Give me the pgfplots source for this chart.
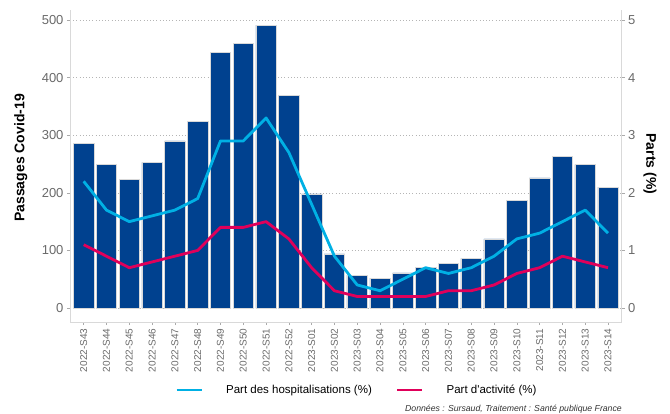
\documentclass[border=0pt]{standalone}
\usepackage{pgfplots}
\usepackage{pgfplotstable}
\pgfplotsset{compat=1.18}
\usepackage{fontspec}
\setmainfont{Liberation Sans}[Ligatures=TeXOff]
\definecolor{barblue}{HTML}{00418F}
\definecolor{hospcyan}{HTML}{00B0E4}
\definecolor{actred}{HTML}{E0005A}
\definecolor{ticktxt}{HTML}{6A6A6A}
\definecolor{axisgray}{HTML}{D9D9D9}
\definecolor{tickgray}{HTML}{AAAAAA}
\definecolor{gridgray}{HTML}{B5B5B5}

\pgfplotstableread{
idx label val hosp act
0 2022-S43 286 2.2 1.1
1 2022-S44 250 1.7 0.9
2 2022-S45 224 1.5 0.7
3 2022-S46 253 1.6 0.8
4 2022-S47 290 1.7 0.9
5 2022-S48 324 1.9 1.0
6 2022-S49 444 2.9 1.4
7 2022-S50 460 2.9 1.4
8 2022-S51 491 3.3 1.5
9 2022-S52 369 2.7 1.2
10 2023-S01 198 1.8 0.7
11 2023-S02 94 0.9 0.3
12 2023-S03 57 0.4 0.2
13 2023-S04 52 0.3 0.2
14 2023-S05 61 0.5 0.2
15 2023-S06 71 0.7 0.2
16 2023-S07 78 0.6 0.3
17 2023-S08 86 0.7 0.3
18 2023-S09 120 0.9 0.4
19 2023-S10 187 1.2 0.6
20 2023-S11 226 1.3 0.7
21 2023-S12 263 1.5 0.9
22 2023-S13 249 1.7 0.8
23 2023-S14 210 1.3 0.7
}\data

\pgfplotsset{
  common/.style={
    scale only axis, width=551.7pt, height=312.3pt,
    at={(70pt,91.8pt)}, anchor=south west,
    xmin=-0.6, xmax=23.6,
    /pgf/number format/assume math mode=true,
    axis line style={draw=axisgray, line width=0.8pt},
    tick style={draw=tickgray, line width=0.5pt},
    tick align=outside, major tick length=3pt,
    y tick label style={font=\fontsize{13}{15}\selectfont, text=ticktxt},
  }
}

\begin{document}
\begin{tikzpicture}
\begin{axis}[common,
  axis x line*=bottom, axis y line*=left,
  ymin=-24.6, ymax=517.6,
  ytick={0,100,200,300,400,500},
  ymajorgrids,
  major grid style={draw=gridgray, line width=0.6pt, dash pattern=on 0.7pt off 2.5pt},
  xtick={0,...,23},
  xticklabels from table={\data}{label},
  x tick label style={rotate=90, anchor=east, font=\fontsize{10}{12}\selectfont, text=ticktxt},
  ylabel={Passages Covid-19},
  ylabel style={font=\bfseries\fontsize{14}{16}\selectfont, at={(rel axis cs:-0.089,0.526)}, anchor=center},
]
\addplot[ybar, bar width=0.9, fill=barblue, draw=white!85!black, line width=0.5pt] table[x=idx, y=val]{\data};
\end{axis}
\begin{axis}[common,
  axis x line=none, axis y line*=right,
  ymin=-0.246, ymax=5.176,
  ytick={0,1,2,3,4,5},
  ylabel={Parts (\%)},
  ylabel style={font=\bfseries\fontsize{14}{16}\selectfont, at={(rel axis cs:1.0513,0.507)}, anchor=center, rotate=180},
  legend style={draw=none, fill=none, at={(rel axis cs:0.52,-0.217)}, anchor=center,
    legend columns=2, font=\fontsize{11.5}{13}\selectfont,
    /tikz/every even column/.append style={column sep=22pt}},
  legend cell align=left,
  legend image code/.code={\draw[#1] (0pt,0pt) -- (25pt,0pt); \path (46pt,0pt);},
]
\addplot[hospcyan, line width=2.8pt, line join=round] table[x=idx, y=hosp]{\data};
\addlegendentry{Part des hospitalisations (\%)}
\addplot[actred, line width=2.8pt, line join=round] table[x=idx, y=act]{\data};
\addlegendentry{Part d'activité (\%)}
\end{axis}
\node[anchor=north east, inner sep=0pt, font=\itshape\fontsize{8.7}{10}\selectfont, text=black!80] at (622pt,9pt) {Données : Sursaud, Traitement : Santé publique France};
\pgfresetboundingbox
\useasboundingbox (0,0) rectangle (670pt,414pt);
\end{tikzpicture}
\end{document}
